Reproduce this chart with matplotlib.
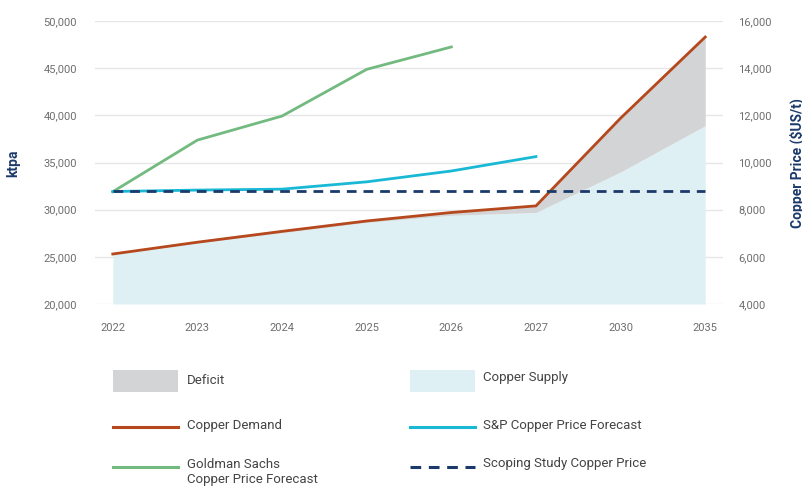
import matplotlib.pyplot as plt
import numpy as np
from matplotlib.patches import Rectangle
from matplotlib.lines import Line2D

plt.rcParams['font.family'] = ['Liberation Sans Narrow', 'Roboto', 'DejaVu Sans']

# data
years = ["2022", "2023", "2024", "2025", "2026", "2027", "2030", "2035"]
demand = [25300, 26550, 27700, 28800, 29700, 30400, 39700, 48300]       # ktpa
supply = [25300, 26450, 27550, 28650, 29400, 29700, 34000, 38900]       # ktpa
goldman = [8760, 10950, 11970, 13950, 14900]                            # US$/t, 2022-2026
sp_price = [8770, 8830, 8870, 9180, 9640, 10250]                        # US$/t, 2022-2027
scoping = [8800] * len(years)                                           # US$/t

c_demand = "#b5481d"
c_goldman = "#72ba7f"
c_sp = "#19b9d6"
c_scope = "#1b3a6b"
c_deficit = "#d3d4d6"
c_supply = "#dff0f4"
c_tick = "#6e6e6e"

W, H = 803, 487
fig = plt.figure(figsize=(W / 100, H / 100), dpi=100)
ax = fig.add_axes([95 / W, 1 - 304 / H, (723 - 95) / W, (304 - 21) / H])

x = np.arange(len(years))
ax.fill_between(x, 20000, supply, color=c_supply, lw=0, zorder=1)
ax.fill_between(x, supply, np.maximum(demand, supply), color=c_deficit, lw=0, zorder=1)
ax.plot(x, demand, color=c_demand, lw=2, zorder=3)

ax.set_ylim(20000, 50000)
ax.set_xlim(-0.21, 7.21)
ax.set_yticks(range(20000, 50001, 5000))
ax.set_yticklabels([f"{v:,}" for v in range(20000, 50001, 5000)])
ax.set_xticks(x)
ax.set_xticklabels(years)
ax.grid(axis="y", color="#e6e6e6", lw=1)
ax.set_axisbelow(True)
for s in ax.spines.values():
    s.set_visible(False)
ax.tick_params(axis="both", length=0, labelsize=8, colors=c_tick)
ax.tick_params(axis="y", pad=13)
ax.tick_params(axis="x", pad=14)

ax2 = ax.twinx()
ax2.plot(x[:len(goldman)], goldman, color=c_goldman, lw=2, zorder=3)
ax2.plot(x[:len(sp_price)], sp_price, color=c_sp, lw=2, zorder=3)
ax2.plot(x, scoping, color=c_scope, lw=2, ls=(0, (3.5, 2.5)), zorder=4)
ax2.set_ylim(4000, 16000)
ax2.set_yticks(range(4000, 16001, 2000))
ax2.set_yticklabels([f"{v:,}" for v in range(4000, 16001, 2000)])
for s in ax2.spines.values():
    s.set_visible(False)
ax2.tick_params(axis="y", length=0, labelsize=8, colors=c_tick, pad=11)

fig.text(13 / W, 1 - 163 / H, "ktpa", rotation=90, ha="center", va="center",
         color=c_scope, fontsize=10, fontweight="bold")
fig.text(797 / W, 1 - 163 / H, "Copper Price ($US/t)", rotation=90, ha="center", va="center",
         color=c_scope, fontsize=10, fontweight="bold")

# legend, drawn by hand in pixel positions
def fx(px):
    return px / W

def fy(py):
    return 1 - py / H

lab_kw = dict(fontsize=9.5, color="#444444", va="center", ha="left")
fig.add_artist(Rectangle((fx(113), fy(392)), 65 / W, 22 / H, color=c_deficit, lw=0))
fig.text(fx(187), fy(380), "Deficit", **lab_kw)
fig.add_artist(Rectangle((fx(410), fy(392)), 65 / W, 22 / H, color=c_supply, lw=0))
fig.text(fx(483), fy(378), "Copper Supply", **lab_kw)

fig.add_artist(Line2D([fx(113), fx(178)], [fy(427), fy(427)], color=c_demand, lw=2.2))
fig.text(fx(187), fy(425), "Copper Demand", **lab_kw)
fig.add_artist(Line2D([fx(410), fx(475)], [fy(427), fy(427)], color=c_sp, lw=2.2))
fig.text(fx(483), fy(425), "S&P Copper Price Forecast", **lab_kw)

fig.add_artist(Line2D([fx(113), fx(178)], [fy(467), fy(467)], color=c_goldman, lw=2.2))
fig.text(fx(187), fy(472), "Goldman Sachs\nCopper Price Forecast", linespacing=1.15, **lab_kw)
fig.add_artist(Line2D([fx(410), fx(475)], [fy(467), fy(467)], color=c_scope, lw=2.2,
                      ls=(0, (3.5, 2.5))))
fig.text(fx(483), fy(464), "Scoping Study Copper Price", **lab_kw)

fig.savefig("out.png", dpi=100)
